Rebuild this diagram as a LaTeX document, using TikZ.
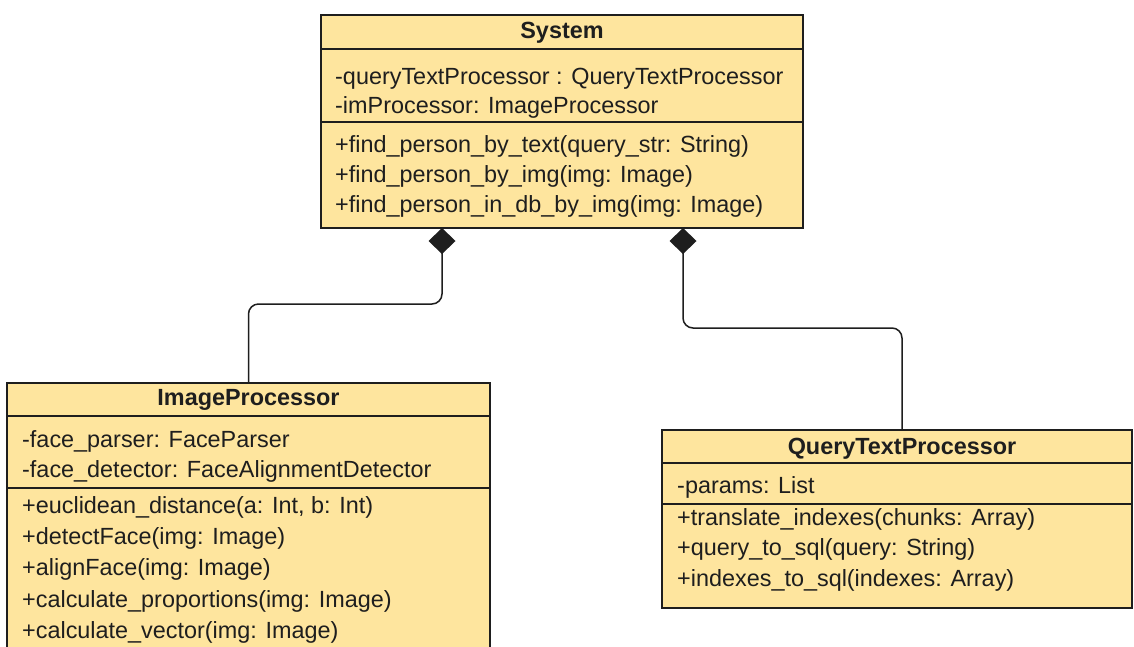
\documentclass[tikz,border=0pt]{standalone}
\usepackage{fontspec}
\setmainfont{Liberation Sans}
\usetikzlibrary{arrows.meta}
\definecolor{classfill}{RGB}{254,229,158}
\definecolor{ink}{RGB}{30,30,30}
\begin{document}
\begin{tikzpicture}[x={(1pt,0)}, y={(0,-1pt)},
  classbox/.style={draw=ink, fill=classfill, line width=1.4pt, inner sep=0pt, outer sep=0pt, anchor=north west},
  sepline/.style={draw=ink, line width=1.4pt},
  txt/.style={anchor=base west, inner sep=0pt, text=ink, font=\fontsize{23.4}{29}\selectfont},
  ttl/.style={anchor=base, inner sep=0pt, text=ink, font=\bfseries\fontsize{23.4}{29}\selectfont},
  comp/.style={draw=ink, line width=1.5pt, rounded corners=10pt, {Diamond[length=26pt,width=27pt]}-}]
\clip (0,0) rectangle (1134,646);
\fill[white] (0,0) rectangle (1134,646);

% System
\node[classbox, minimum width=482pt, minimum height=213pt] (sys) at (321,15) {};
\draw[sepline] (sys.west |- 0,49) -- (sys.east |- 0,49);
\draw[sepline] (sys.west |- 0,122) -- (sys.east |- 0,122);
\node[ttl] (systitle) at (sys.north |- 0,38) {System};
\node[txt] (sysa1) at (335,84) {-queryTextProcessor : QueryTextProcessor};
\node[txt] (sysa2) at (335,113) {-imProcessor: ImageProcessor};
\node[txt] (sysm1) at (335,152) {+find\_person\_by\_text(query\_str: String)};
\node[txt] (sysm2) at (335,182) {+find\_person\_by\_img(img: Image)};
\node[txt] (sysm3) at (335,212) {+find\_person\_in\_db\_by\_img(img: Image)};

% ImageProcessor
\node[classbox, minimum width=483pt, minimum height=300pt] (img) at (7,383) {};
\draw[sepline] (img.west |- 0,416) -- (img.east |- 0,416);
\draw[sepline] (img.west |- 0,488) -- (img.east |- 0,488);
\node[ttl] (imgtitle) at (img.north |- 0,405) {ImageProcessor};
\node[txt] (imga1) at (22,447) {-face\_parser: FaceParser};
\node[txt] (imga2) at (22,477) {-face\_detector: FaceAlignmentDetector};
\node[txt] (imgm1) at (22,513) {+euclidean\_distance(a: Int, b: Int)};
\node[txt] (imgm2) at (22,544) {+detectFace(img: Image)};
\node[txt] (imgm3) at (22,575) {+alignFace(img: Image)};
\node[txt] (imgm4) at (22,607) {+calculate\_proportions(img: Image)};
\node[txt] (imgm5) at (22,638) {+calculate\_vector(img: Image)};

% QueryTextProcessor
\node[classbox, minimum width=470pt, minimum height=178pt] (qtp) at (662,430) {};
\draw[sepline] (qtp.west |- 0,463) -- (qtp.east |- 0,463);
\draw[sepline] (qtp.west |- 0,504) -- (qtp.east |- 0,504);
\node[ttl] (qtptitle) at ([xshift=5pt]qtp.north |- 0,454) {QueryTextProcessor};
\node[txt] (qtpa1) at (677,493) {-params: List};
\node[txt] (qtpm1) at (677,525) {+translate\_indexes(chunks: Array)};
\node[txt] (qtpm2) at (677,555) {+query\_to\_sql(query: String)};
\node[txt] (qtpm3) at (677,586) {+indexes\_to\_sql(indexes: Array)};

% composition connectors
\coordinate (d1) at (sys.south -| 442,0);
\coordinate (d2) at (sys.south -| 683,0);
\draw[comp] (d1) -- ++(0,76) -| (img.north);
\draw[comp] (d2) -- ++(0,100) -| ([xshift=5pt]qtp.north);
\end{tikzpicture}
\end{document}
